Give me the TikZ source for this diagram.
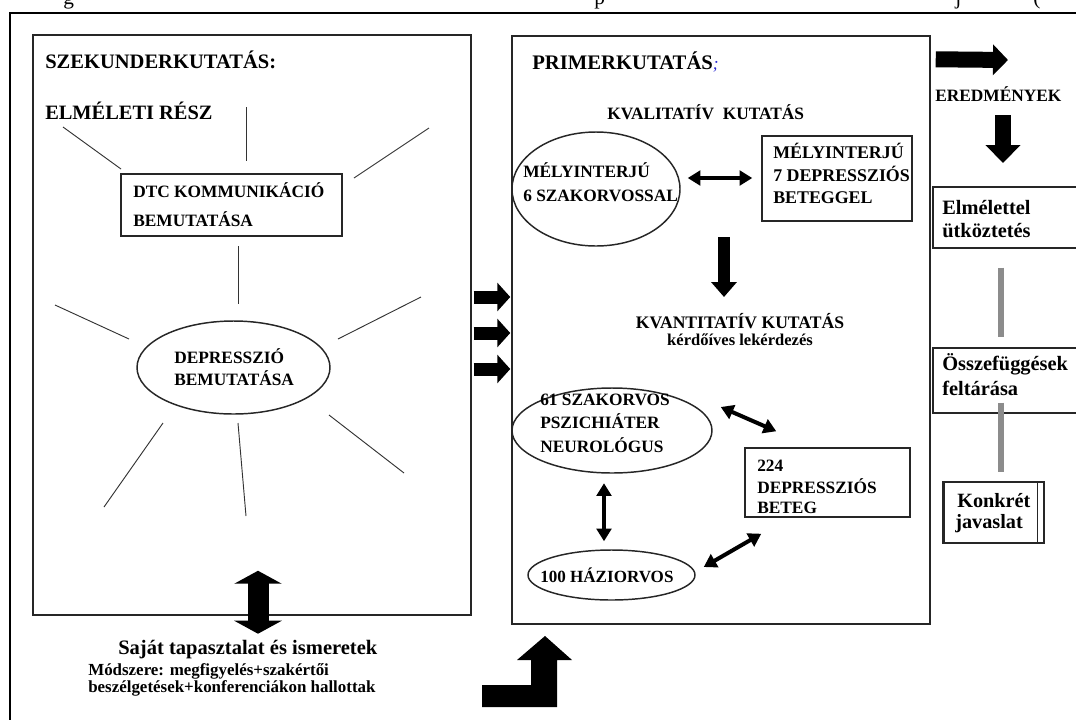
\documentclass[tikz,border=0pt]{standalone}
\usepackage{fontspec}
\setmainfont{Liberation Serif}
\usetikzlibrary{shapes.geometric,arrows.meta,fit,calc}
\newcommand\fsz[1]{\fontsize{#1}{#1}\selectfont\bfseries}
\definecolor{semiblue}{RGB}{40,40,210}
\definecolor{linkgray}{RGB}{140,140,140}
\begin{document}
\begin{tikzpicture}[x=0.75pt,y=-0.75pt,
  box/.style={draw=black!85, line width=1.1pt, inner sep=0pt},
  oval/.style={ellipse, draw=black!85, line width=1.1pt, inner sep=0pt},
  lbl/.style={anchor=base west, inner sep=0pt},
  ray/.style={draw=black!80, line width=0.7pt},
  gline/.style={draw=linkgray, line width=4.5pt},
  dbl/.style={line width=3pt, {Triangle[length=9.5pt,width=11pt]}-{Triangle[length=9.5pt,width=11pt]}},
  barrow/.style n args={3}{line width=#1, -{Triangle[length=#2,width=#3]}},
  bdbl/.style n args={3}{line width=#1, {Triangle[length=#2,width=#3]}-{Triangle[length=#2,width=#3]}}
]
\useasboundingbox (0,0) rectangle (1076,719);

% caption line above the frame, only its lowest parts fall on the page
\node[anchor=base west, inner sep=0pt, font=\fontsize{16}{16}\selectfont] (capg) at (63,4) {g};
\node[anchor=base west, inner sep=0pt, font=\fontsize{16}{16}\selectfont] (capp) at (594,4) {p};
\node[anchor=base west, inner sep=0pt, font=\fontsize{16}{16}\selectfont] (capj) at (955,4) {j};
\node[anchor=base west, inner sep=0pt, font=\fontsize{16}{16}\selectfont] (capb) at (1033,4) {(};

% outer frame
\draw[line width=1.5pt] (10,740) -- (10,13) -- (1100,13);

% main boxes
\node[box, fit={(33,35) (471,615)}] (leftbox) {};
\node[box, fit={(512,36) (930,624)}] (rightbox) {};

% left part: theory
\node[lbl, font=\fsz{15.4}] (tszek) at (45,68) {SZEKUNDERKUTATÁS:};
\node[lbl, font=\fsz{15.3}] (telmr) at (45,119) {ELMÉLETI RÉSZ};

\node[box, fit={(121,174) (342,236)}] (dtc) {};
\node[lbl, font=\fsz{13}] (tdtca) at (133,197) {DTC KOMMUNIKÁCIÓ};
\node[lbl, font=\fsz{13}] (tdtcb) at (133,226) {BEMUTATÁSA};

\node[oval, minimum width=144.75pt, minimum height=69.75pt] (dep) at (233.5,367.5) {};
\node[lbl, font=\fsz{13}] (tdepa) at (174,363) {DEPRESSZIÓ};
\node[lbl, font=\fsz{13}] (tdepb) at (174,385) {BEMUTATÁSA};

% rays
\draw[ray] (246,107) -- (246,161);
\draw[ray] (63,127) -- (121,169);
\draw[ray] (429,128) -- (354,178);
\draw[ray] (238,246) -- (238,304);
\draw[ray] (55,305) -- (129,339);
\draw[ray] (421,297) -- (338,339);
\draw[ray] (163,423) -- (104,507);
\draw[ray] (238,423) -- (246,516);
\draw[ray] (329,415) -- (404,473);

% own experience
\draw[bdbl={15.75pt}{9.75pt}{35.25pt}] ($(leftbox.south)+(6,-45)$) -- ($(leftbox.south)+(6,18)$);
\node[lbl, font=\fsz{15.4}] (tsajat) at (118,654) {Saját tapasztalat és ismeretek};
\node[lbl, font=\fsz{12.7}] (tmoda) at (88,675) {Módszere: megfigyelés+szakértői};
\node[lbl, font=\fsz{12.7}] (tmodb) at (88,692) {beszélgetések+konferenciákon hallottak};

% arrows into primary research
\draw[barrow={9.75pt}{9.75pt}{21pt}] ($(leftbox.east)+(2,-28)$) -- ($(rightbox.west)+(-1,-33)$);
\draw[barrow={9.75pt}{9.75pt}{21pt}] ($(leftbox.east)+(2,8)$) -- ($(rightbox.west)+(-1,3)$);
\draw[barrow={9.75pt}{9.75pt}{21pt}] ($(leftbox.east)+(2,44)$) -- ($(rightbox.west)+(-1,39)$);

% right part: primary research
\node[lbl, font=\fsz{15.5}] (tprim) at (532,69) {PRIMERKUTATÁS{\mdseries\itshape\fontsize{13}{13}\selectfont\color{semiblue};}};
\node[lbl, font=\fsz{13}] (tkval) at (607,119) {KVALITATÍV\ \ KUTATÁS};

\node[oval, minimum width=126pt, minimum height=85.5pt] (mely6) at (596,189) {};
\node[lbl, font=\fsz{13}] (tm6a) at (523,177) {MÉLYINTERJÚ};
\node[lbl, font=\fsz{13}] (tm6b) at (523,201) {6 SZAKORVOSSAL};
\node[box, fit={(762,136) (912,221)}] (mely7) {};
\node[lbl, font=\fsz{13.4}] (tm7a) at (773,158) {MÉLYINTERJÚ};
\node[lbl, font=\fsz{13.4}] (tm7b) at (773,181) {7 DEPRESSZIÓS};
\node[lbl, font=\fsz{13.4}] (tm7c) at (773,203) {BETEGGEL};
\draw[dbl] ($(mely6.east)+(7,-11)$) -- ($(mely7.west)+(-9,-0.5)$);

\draw[barrow={9pt}{11.25pt}{18.75pt}] (724,237) -- (724,297);

\node[anchor=base, inner sep=0pt, font=\fsz{13.2}] (tkvant) at (740,328) {KVANTITATÍV KUTATÁS};
\node[anchor=base, inner sep=0pt, font=\fsz{12.4}] (tkerd) at (740,345) {kérdőíves lekérdezés};

\node[oval, minimum width=150pt, minimum height=63.75pt] (sz61) at (612,430.5) {};
\node[lbl, font=\fsz{13}] (t61a) at (540,405) {61 SZAKORVOS};
\node[lbl, font=\fsz{13}] (t61b) at (540,428) {PSZICHIÁTER};
\node[lbl, font=\fsz{13}] (t61c) at (540,452) {NEUROLÓGUS};
\node[box, fit={(745,448) (910,517)}] (b224) {};
\node[lbl, font=\fsz{13}] (t224a) at (757,471) {224};
\node[lbl, font=\fsz{13}] (t224b) at (757,493) {DEPRESSZIÓS};
\node[lbl, font=\fsz{13}] (t224c) at (757,513) {BETEG};
\node[oval, minimum width=125.25pt, minimum height=37.5pt] (haz) at (611.5,575) {};
\node[lbl, font=\fsz{12.8}] (th) at (540,582) {100 HÁZIORVOS};

\draw[dbl] ($(sz61.east)+(8,-23.5)$) -- ($(b224.north west)+(32,-16)$);
\draw[dbl] ($(sz61.south)+(-8,9.5)$) -- ($(haz.north)+(-7.5,-8)$);
\draw[dbl] ($(haz.east)+(8,-8)$) -- ($(b224.south west)+(17,16)$);

% bent arrow under the primary research box
\fill (482,685) -- (531,685) -- (531,660) -- (517,660) -- (545,636) -- (572,660)
  -- (557,660) -- (557,707) -- (482,707) -- cycle;

% results column
\draw[barrow={12pt}{11.25pt}{22.5pt}] ($(rightbox.north east)+(5,24)$) -- (1008,60);
\node[lbl, font=\fsz{13}] (tered) at (935,101) {EREDMÉNYEK};
\coordinate (dtop) at (1003,115);
\draw[barrow={12pt}{13.5pt}{25.5pt}] (dtop) -- (1003,163);

\node[box, fit={(933,187) (1080,248)}] (elm) {};
\node[lbl, font=\fsz{15.3}] (telma) at (942,214) {Elmélettel};
\node[lbl, font=\fsz{15.3}] (telmb) at (942,237) {ütköztetés};
\node[box, fit={(933,348) (1080,413)}] (ossz) {};
\node[lbl, font=\fsz{15.3}] (tossza) at (942,370) {Összefüggések};
\node[lbl, font=\fsz{15.3}] (tosszb) at (942,395) {feltárása};
\node[box, fit={(943,482) (1044,543)}] (konk) {};
\draw[draw=black!85, line width=1.1pt] ($(konk.north east)+(-7,0)$) -- ($(konk.south east)+(-7,0)$);
\draw[draw=black!85, line width=1.1pt] ($(konk.north west)+(2,0)$) -- ($(konk.south west)+(2,0)$);
\node[lbl, font=\fsz{15.2}] (tkonka) at (957,507) {Konkrét};
\node[lbl, font=\fsz{15.2}] (tkonkb) at (955,528) {javaslat};

\draw[gline] ($(elm.south west)+(69,19)$) -- ($(ossz.north west)+(69,-10)$);
\draw[gline] ($(ossz.south west)+(69,-11)$) -- ($(konk.north west)+(59,-9)$);
\end{tikzpicture}
\end{document}
